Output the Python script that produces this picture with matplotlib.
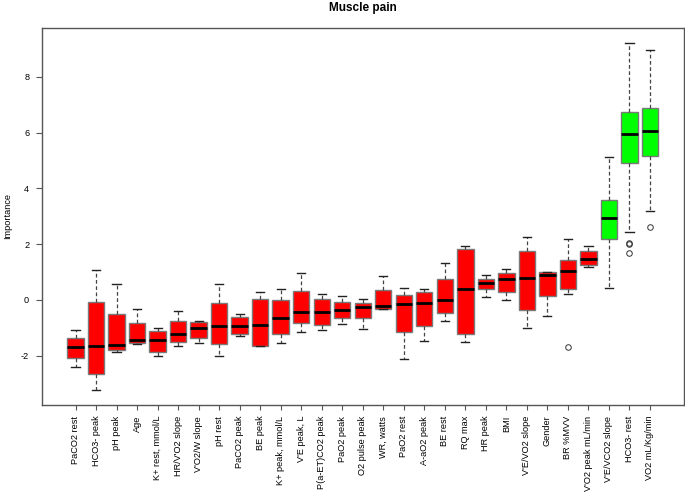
import matplotlib
matplotlib.use("Agg")
import matplotlib.pyplot as plt

plt.rcParams['font.family'] = ['Liberation Sans', 'DejaVu Sans']

labels = ["PaCO2 rest", "HCO3- peak", "pH peak", "Age", "K+ rest, mmol/L",
          "HR/V'O2 slope", "V'O2/W slope", "pH rest", "PaCO2 peak", "BE peak",
          "K+ peak, mmol/L", "V'E peak, L", "P(a-ET)CO2 peak", "PaO2 peak",
          "O2 pulse peak", "WR, watts", "PaO2 rest", "A-aO2 peak", "BE rest",
          "RQ max", "HR peak", "BMI", "V'E/VO2 slope", "Gender", "BR %MVV",
          "V'O2 peak mL/min", "V'E/VCO2 slope", "HCO3- rest", "VO2 mL/Kg/min"]

whislo = [-2.40, -3.24, -1.85, -1.58, -2.01, -1.64, -1.54, -2.01, -1.31, -1.66,
          -1.55, -1.15, -1.07, -0.86, -1.04, -0.31, -2.12, -1.49, -0.74, -1.51,
          0.12, 0.01, -1.01, -0.56, 0.20, 1.18, 0.42, 2.45, 3.20]
q1 = [-2.10, -2.67, -1.79, -1.56, -1.85, -1.51, -1.38, -1.58, -1.23, -1.65,
      -1.21, -0.83, -0.90, -0.64, -0.64, -0.31, -1.15, -0.93, -0.48, -1.24,
      0.38, 0.29, -0.36, 0.14, 0.39, 1.25, 2.19, 4.92, 5.15]
med = [-1.69, -1.67, -1.62, -1.45, -1.43, -1.21, -1.02, -0.95, -0.95, -0.89,
       -0.65, -0.44, -0.44, -0.37, -0.26, -0.21, -0.13, -0.10, 0.01, 0.39,
       0.62, 0.76, 0.80, 0.90, 1.05, 1.45, 2.92, 5.95, 6.07]
q3 = [-1.35, -0.08, -0.49, -0.83, -1.10, -0.76, -0.80, -0.11, -0.63, 0.05,
      0.00, 0.31, 0.04, -0.08, -0.11, 0.37, 0.17, 0.29, 0.75, 1.84,
      0.75, 0.98, 1.77, 1.00, 1.43, 1.77, 3.57, 6.74, 6.87]
whishi = [-1.07, 1.07, 0.56, -0.31, -1.01, -0.40, -0.75, 0.56, -0.51, 0.29,
          0.39, 0.96, 0.23, 0.14, 0.04, 0.85, 0.42, 0.39, 1.31, 1.93,
          0.88, 1.10, 2.25, 1.00, 2.20, 1.93, 5.13, 9.21, 8.95]
fliers = [[], [], [], [], [], [], [], [], [], [],
          [], [], [], [], [], [], [], [], [], [],
          [], [], [], [], [-1.69], [], [], [2.04, 2.01, 1.70], [2.61]]
confirmed = [False] * 26 + [True] * 3

stats = []
for i in range(len(labels)):
    stats.append(dict(label=labels[i], whislo=whislo[i], q1=q1[i], med=med[i],
                      q3=q3[i], whishi=whishi[i], fliers=fliers[i]))

fig = plt.figure(figsize=(6.85, 5.0), dpi=100)
ax = fig.add_axes([41.5 / 685, 1 - 404.5 / 500, (684 - 41.5) / 685, (404.5 - 28) / 500])

positions = list(range(1, len(labels) + 1))
bp = ax.bxp(stats, positions=positions, widths=0.8, patch_artist=True,
            showfliers=True,
            boxprops=dict(edgecolor='#7a7a7a', linewidth=1.0),
            medianprops=dict(color='black', linewidth=2.0, solid_capstyle='butt'),
            whiskerprops=dict(color='#444444', linestyle=(0, (3, 2)), linewidth=0.9),
            capprops=dict(color='#222222', linewidth=1.0),
            flierprops=dict(marker='o', markersize=4, markerfacecolor='none',
                            markeredgecolor='#333333', markeredgewidth=0.7))
for patch, conf in zip(bp['boxes'], confirmed):
    patch.set_facecolor('#00FF00' if conf else '#FF0000')
for cap in bp['caps']:
    x0, x1 = cap.get_xdata()
    c = (x0 + x1) / 2
    cap.set_xdata([c - 0.2, c + 0.2])

n = len(labels)
ax.set_xlim(0.5 - 0.04 * n, n + 0.5 + 0.04 * n)
ax.set_ylim(-3.75, 9.75)
ax.set_xticks(positions)
ax.set_xticklabels(labels, rotation=90, fontsize=6.6)
ax.set_yticks([-2, 0, 2, 4, 6, 8])
ax.set_yticklabels(['-2', '0', '2', '4', '6', '8'], fontsize=6.6)
ax.tick_params(axis='x', direction='out', length=3.8, width=0.8, color='#555555', pad=4.3)
ax.tick_params(axis='y', direction='out', length=4.6, width=0.8, color='#555555', pad=4.3)
for s in ax.spines.values():
    s.set_color('#555555')
    s.set_linewidth(1.0)
ax.set_ylabel('Importance', fontsize=6.6)
ax.yaxis.set_label_coords((12 - 41.5) / 642.5, 0.5)
fig.text(0.5 + 0.03, 1 - 8 / 500, 'Muscle pain', ha='center', va='center',
         fontsize=8.5, fontweight='bold')

fig.savefig('out.png', dpi=100)
